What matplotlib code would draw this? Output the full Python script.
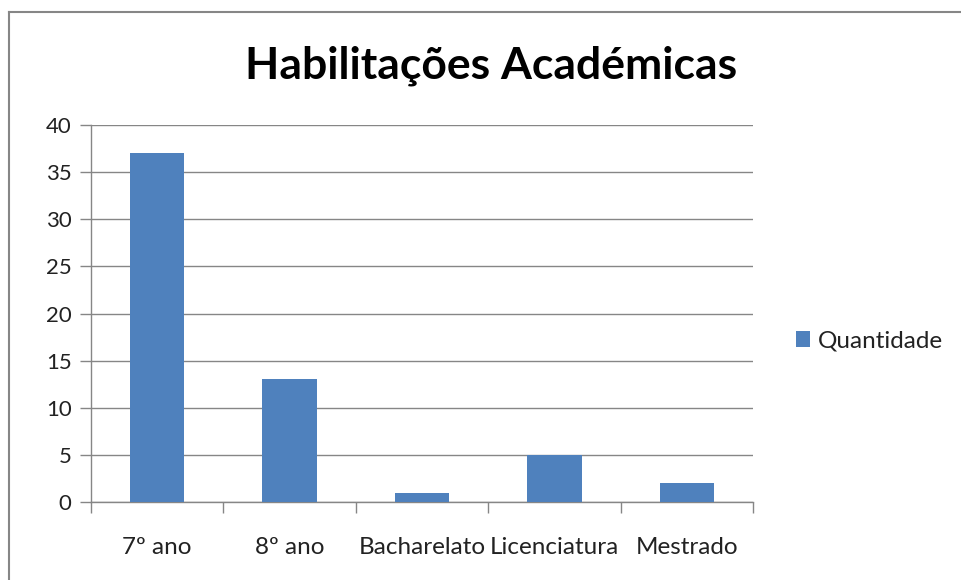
import matplotlib
matplotlib.use("Agg")
import matplotlib.pyplot as plt
from matplotlib.lines import Line2D
import numpy as np

categories = ["7º ano", "8º ano", "Bacharelato", "Licenciatura", "Mestrado"]
values = [37, 13, 1, 5, 2]
series_name = "Quantidade"
title = "Habilitações Académicas"

plt.rcParams['font.family'] = ['Lato', 'DejaVu Sans']

W, H = 961, 580
fig = plt.figure(figsize=(W/100, H/100), dpi=100)
ax = fig.add_axes([91/W, 1-502/H, (753-91)/W, (502-125)/H])

x = np.arange(len(categories))
bars = ax.bar(x, values, width=0.41, color="#4F81BD", label=series_name, zorder=3)
ax.set_xlim(-0.5, len(categories)-0.5)
ax.set_ylim(0, 40)
ax.set_yticks(range(0, 41, 5))
ax.yaxis.grid(True, color="#868686", linewidth=1.0, zorder=0)
ax.set_xticks(x)
ax.set_xticklabels(categories)
ax.set_xticks(np.arange(-0.5, len(categories), 1.0), minor=True)
ax.tick_params(axis='x', which='major', length=0, pad=25, labelsize=17.5, colors="#222222")
ax.tick_params(axis='x', which='minor', length=8, color="#868686", width=1.0)
ax.tick_params(axis='y', length=8, color="#868686", width=1.0, labelsize=16, pad=6, colors="#222222")
for s in ["top", "right"]:
    ax.spines[s].set_visible(False)
for s in ["left", "bottom"]:
    ax.spines[s].set_color("#868686")
    ax.spines[s].set_linewidth(1.0)

fig.text(491/W, 1-66/H, title, ha="center", va="center", fontsize=32, fontweight="bold", color="black")

leg = fig.legend(handles=[bars], labels=[series_name], loc="center left",
                 bbox_to_anchor=(774/W, 1-341/H), frameon=False, fontsize=17.5,
                 handlelength=0.6, handleheight=0.6, handletextpad=0.3)
for t in leg.get_texts():
    t.set_color("#222222")

fig.add_artist(Line2D([9/W, 9/W], [0, 1-12/H], color="#868686", linewidth=1.5, transform=fig.transFigure))
fig.add_artist(Line2D([9/W, 1], [1-12/H, 1-12/H], color="#868686", linewidth=1.5, transform=fig.transFigure))

fig.savefig("out.png", dpi=100)
